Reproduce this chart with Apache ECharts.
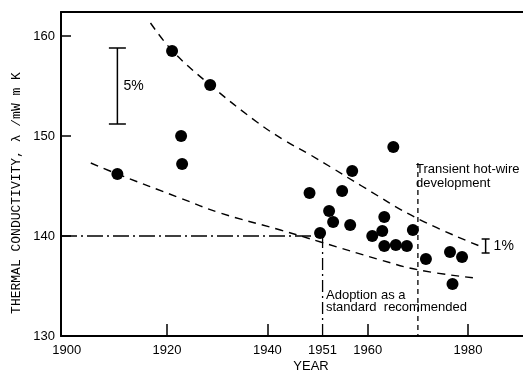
<!DOCTYPE html>
<html>
<head>
<meta charset="utf-8">
<script src="https://cdn.jsdelivr.net/npm/echarts@6/dist/echarts.min.js"></script>
<style>
  html, body { margin: 0; padding: 0; background: #fff; }
  #chart { width: 523px; height: 371px; }
</style>
</head>
<body>
<div id="chart"></div>
<script>
// Measured thermal conductivity values (mW/m K) by year of publication
const measYears  = [1910.1, 1921.0, 1922.8, 1923.0, 1928.6, 1948.4, 1950.5, 1952.3, 1953.1, 1954.9, 1956.5, 1956.9,
                    1960.9, 1962.9, 1963.3, 1963.3, 1965.1, 1965.6, 1967.8, 1969.0, 1971.6, 1976.4, 1976.9, 1978.8];
const measValues = [146.2, 158.5, 150.0, 147.2, 155.1, 144.3, 140.3, 142.5, 141.4, 144.5, 141.1, 146.5,
                    140.0, 140.5, 141.9, 139.0, 148.9, 139.1, 139.0, 140.6, 137.7, 138.4, 135.2, 137.9];

// Upper and lower envelope of the scatter
const upperYears  = [1916.7, 1921.1, 1928.6, 1937.9, 1943.3, 1948.6, 1952.6, 1958.8, 1969.7, 1982.3];
const upperValues = [161.3, 158.5, 155.1, 151.4, 149.6, 148.1, 146.9, 145.0, 141.8, 139.0];
const lowerYears  = [1904.8, 1910.1, 1922.6, 1930.6, 1942.6, 1950.6, 1962.6, 1970.2, 1981.3];
const lowerValues = [147.3, 146.2, 143.8, 142.3, 140.6, 139.4, 137.6, 136.6, 135.8];

// Reference lines
const recommendedValue = 140;
const adoptionYear = 1951;
const hotWireYear = 1970;
const hotWireTop = 147.3;

// Scale bars (percent of value)
const barYears  = [1910.1, 1983.5];
const barLow    = [151.2, 138.3];
const barHigh   = [158.8, 139.7];
const barLabels = ['5%', '1%'];

// Axes
const xMin = 1898.86, xMax = 1990.95;
const yMin = 130, yMax = 162.4;
const xTickLabels = [1900, 1920, 1940, 1951, 1960, 1980];
const xTickMarks  = [1920, 1940, 1960, 1980];
const yTickLabels = [130, 140, 150, 160];
const yTickMarks  = [140, 150, 160];

const zip = (a, b) => a.map((v, i) => [v, b[i]]);
const tickFont = { color: '#000', fontFamily: 'Liberation Sans', fontSize: 13 };
const frameLine = { color: '#000', width: 2 };

const chart = echarts.init(document.getElementById('chart'), null, { renderer: 'canvas' });

chart.setOption({
  backgroundColor: '#fff',
  animation: false,
  grid: { left: 61, right: 0, top: 12, bottom: 35, show: false },
  xAxis: [
    {
      type: 'value', min: xMin, max: xMax, position: 'bottom',
      axisLine: { show: true, onZero: false, lineStyle: frameLine },
      axisTick: { show: true, inside: true, length: 12, customValues: xTickMarks, lineStyle: { color: '#000', width: 1.5 } },
      axisLabel: { customValues: xTickLabels, margin: 8, formatter: v => String(v), ...tickFont },
      splitLine: { show: false }
    },
    {
      // top frame line
      type: 'value', min: xMin, max: xMax, position: 'top',
      axisLine: { show: true, onZero: false, lineStyle: frameLine },
      axisTick: { show: false }, axisLabel: { show: false }, splitLine: { show: false }
    }
  ],
  yAxis: {
    type: 'value', min: yMin, max: yMax,
    axisLine: { show: true, onZero: false, lineStyle: frameLine },
    axisTick: { show: true, inside: true, length: 10, customValues: yTickMarks, lineStyle: { color: '#000', width: 1.5 } },
    axisLabel: { customValues: yTickLabels, margin: 6, formatter: v => String(v), ...tickFont },
    splitLine: { show: false }
  },
  series: [
    {
      name: 'upper', type: 'line', data: zip(upperYears, upperValues),
      smooth: 0.4, showSymbol: false, silent: true,
      lineStyle: { color: '#000', width: 1.4, type: [8, 6] }
    },
    {
      name: 'lower', type: 'line', data: zip(lowerYears, lowerValues),
      smooth: 0.4, showSymbol: false, silent: true,
      lineStyle: { color: '#000', width: 1.4, type: [8, 6] }
    },
    {
      name: 'recommended', type: 'line', showSymbol: false, silent: true,
      data: [[xMin, recommendedValue], [adoptionYear, recommendedValue]],
      lineStyle: { color: '#000', width: 1.3, type: [16, 4, 2, 4] }
    },
    {
      name: 'adoption', type: 'line', showSymbol: false, silent: true,
      data: [[adoptionYear, recommendedValue], [adoptionYear, yMin]],
      lineStyle: { color: '#000', width: 1.3, type: [12, 4, 2, 4] }
    },
    {
      name: 'hotwire', type: 'line', showSymbol: false, silent: true,
      data: [[hotWireYear, hotWireTop], [hotWireYear, yMin]],
      lineStyle: { color: '#000', width: 1.3, type: [5, 4] }
    },
    {
      name: 'measurements', type: 'scatter', symbol: 'circle', symbolSize: 12,
      data: zip(measYears, measValues),
      itemStyle: { color: '#000', opacity: 1 }
    },
    {
      name: 'scale bars', type: 'custom', silent: true,
      data: barYears.map((y, i) => [y, barLow[i], barHigh[i]]),
      renderItem(params, api) {
        const x = api.value(0);
        const pLo = api.coord([x, api.value(1)]);
        const pHi = api.coord([x, api.value(2)]);
        const half = params.dataIndex === 0 ? 8.5 : 4;
        const gap = params.dataIndex === 0 ? 6 : 8;
        const stroke = { stroke: '#000', lineWidth: 1.5 };
        return {
          type: 'group',
          children: [
            { type: 'line', shape: { x1: pLo[0], y1: pLo[1], x2: pHi[0], y2: pHi[1] }, style: stroke },
            { type: 'line', shape: { x1: pHi[0] - half, y1: pHi[1], x2: pHi[0] + half, y2: pHi[1] }, style: stroke },
            { type: 'line', shape: { x1: pLo[0] - half, y1: pLo[1], x2: pLo[0] + half, y2: pLo[1] }, style: stroke },
            {
              type: 'text',
              style: {
                text: barLabels[params.dataIndex],
                x: pHi[0] + gap, y: (pLo[1] + pHi[1]) / 2,
                verticalAlign: 'middle', align: 'left',
                font: '14px "Liberation Sans"', fill: '#000'
              }
            }
          ]
        };
      }
    }
  ],
  graphic: [
    {
      type: 'text', x: 17, y: 193, rotation: Math.PI / 2,
      style: {
        text: 'THERMAL CONDUCTIVITY, λ /mW m K',
        font: '13px "Liberation Mono"', fill: '#000',
        align: 'center', verticalAlign: 'middle'
      }
    },
    {
      type: 'text', x: 311, y: 366,
      style: { text: 'YEAR', font: '13px "Liberation Sans"', fill: '#000', align: 'center', verticalAlign: 'middle' }
    },
    {
      type: 'text', x: 416, y: 162,
      style: {
        text: 'Transient hot-wire\ndevelopment', font: '13px "Liberation Sans"', fill: '#000',
        lineHeight: 14, align: 'left', verticalAlign: 'top'
      }
    },
    {
      type: 'text', x: 326, y: 289,
      style: {
        text: 'Adoption as a\nstandard  recommended', font: '13px "Liberation Sans"', fill: '#000',
        lineHeight: 12.5, align: 'left', verticalAlign: 'top'
      }
    }
  ]
});
</script>
</body>
</html>
